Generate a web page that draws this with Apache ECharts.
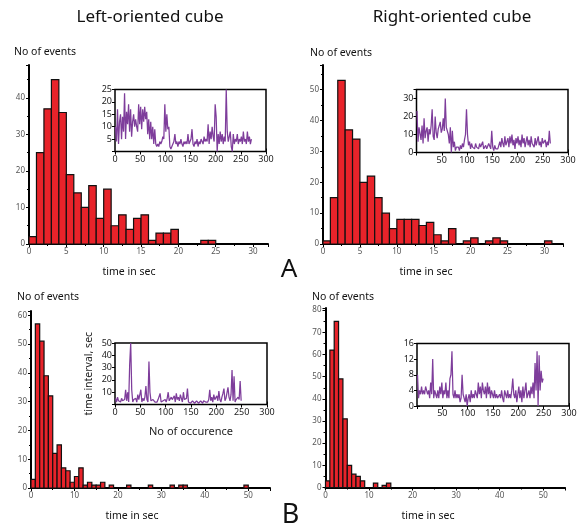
<!DOCTYPE html>
<html><head><meta charset="utf-8">
<script src="https://cdn.jsdelivr.net/npm/echarts@6/dist/echarts.min.js"></script>
<style>html,body{margin:0;padding:0;background:#fff}#c{width:580px;height:526px}</style>
</head><body><div id="c"></div>
<script>
// Histogram counts, bin i = [i, i+1) seconds
const countsLeftA  = [2,25,37,45,36,19,14,10,16,7,15,5,8,4,7,8,1,3,3,4,0,0,0,1,1];
const countsRightA = [1,15,53,37,34,20,22,15,10,5,8,8,8,6,7,3,1,5,0,1,2,0,1,2,1,0,0,0,0,0,1];
const countsLeftB  = [3,57,51,39,32,12,15,7,6,2,4,7,1,2,1,1,2,0,1,0,0,0,1,0,0,0,0,1,0,0,0,0,1,0,1,1,0,0,0,0,0,0,0,0,0,0,0,0,0,1];
const countsRightB = [3,62,75,49,31,10,6,5,3,0,0,2,0,1,2];

// Inset series: time interval (s) per occurrence, sampled every 2nd occurrence (1,3,5,...)
const seqLeftA = [10,4,17,3,12,15,5,14,8,23.5,
 5,16,11,19,8,17,6,12,15,10,
 13,10,8,19,11,18,9,17,12,18,
 13,16,7,13,5,12,5,10,3,9,
 3,2,3,2,4,3,4,6,5,19,
 8,15,9,10,2,1,2,3,4,7,
 3,4,2,4,3,5,3,2,4,3,
 4,3,7,3,4,5,9,3,2,4,
 3,5,2,4,3,5,4,3,6,4,
 5,4,11,3,8,5,10,6,4,19,
 14,0,7,3,8,4,7,3,6,4,
 25,8,4,6,8,2,0,7,3,5,
 4,7,3,5,4,6,3,8,4,5,
 3,8,4,6,3,5];
const seqRightA = [23,6,14,13,7,15,5,19,8,12,
 14,6,13,10,15,24,9,7,20,11,
 8,13,12,17,11,13,19,12,30,14,
 15,10,5,14,0,12,3,6,1,3,
 2,3,1,4,2,5,3,7,10,24,
 10,4,6,2,5,3,4,2,5,3,
 4,2,5,3,4,6,2,3,4,2,
 3,5,4,2,12,3,1,4,2,3,
 2,4,6,3,8,5,3,9,4,6,
 8,3,9,5,10,4,7,2,8,5,
 9,4,7,3,10,5,8,3,6,9,
 4,7,3,9,5,6,3,8,4,5,
 9,4,6,3,8,5,4,7,3,6,
 4,12,5];
const seqLeftB = [5,2,6,3,4,2,5,3,2,4,
 12,3,10,2,33,50,12,2,4,3,
 5,2,8,4,3,12,2,5,3,6,
 15,4,2,35,10,3,2,4,3,2,
 3,2,4,3,9,2,1,3,2,4,
 2,5,10,3,2,6,4,3,7,2,
 9,4,6,3,8,5,2,10,4,3,
 5,13,2,3,1,2,3,2,1,2,
 3,2,1,2,3,2,1,3,2,2,
 3,2,4,12,3,6,2,8,4,3,
 7,3,11,4,2,6,9,13,3,5,
 4,14,6,3,8,28,3,23,2,4,
 3,6,4,19,3];
const seqRightB = [8,2,4,3,5,3,4,3,5,4,
 3,4,2,6,3,12,2,4,3,2,
 4,2,5,3,6,2,4,3,6,2,
 4,2,7,8,14,3,2,4,2,3,
 2,3,1,2,8,3,2,1,3,0,
 2,3,1,4,2,3,2,4,3,2,
 6,3,5,2,6,4,3,5,2,6,
 3,5,2,4,3,2,4,2,3,2,
 2,3,2,4,2,1,4,3,2,4,
 2,3,2,4,7,3,2,4,1,3,
 5,2,4,1,5,2,4,6,2,3,
 4,2,5,3,6,2,11,4,14,0,
 13,4,9,6,7];

const titles = ['Left-oriented cube','Right-oriented cube'];
const yName = 'No of events';
const xName = 'time in sec';
const panelLetters = ['A','B'];
const insetYName = 'time interval, sec';
const insetXName = 'No of occurence';

const FONT = '"Noto Sans", "Open Sans", sans-serif';
const chart = echarts.init(document.getElementById('c'), null, {renderer:'canvas'});

function binItems(counts){ const out=[]; counts.forEach((c,i)=>{ if(c>0) out.push([i,i+1,c]); }); return out; }
function seqItems(vals){ return vals.map((v,i)=>[1+2*i, v]); }

function mainX(gi,max,interval){ return {type:'value',gridIndex:gi,min:0,max,interval,
  axisLine:{show:true,onZero:false,lineStyle:{color:'#000',width:2}},
  axisTick:{show:true,length:3,lineStyle:{color:'#000',width:1}},
  minorTick:{show:true,splitNumber:2,length:2,lineStyle:{color:'#000',width:1}},
  splitLine:{show:false},minorSplitLine:{show:false},
  axisLabel:{fontSize:8,color:'#555',margin:4,showMaxLabel:false,fontFamily:FONT}}; }
function mainY(gi,max){ return {type:'value',gridIndex:gi,min:0,max,interval:10,
  axisLine:{show:true,onZero:false,lineStyle:{color:'#000',width:2}},
  axisTick:{show:true,length:3,lineStyle:{color:'#000',width:1}},
  minorTick:{show:true,splitNumber:2,length:2,lineStyle:{color:'#000',width:1}},
  splitLine:{show:false},minorSplitLine:{show:false},
  axisLabel:{fontSize:8,color:'#555',margin:4,showMaxLabel:false,fontFamily:FONT}}; }
function insetX(gi,showMin,extra){ return Object.assign({type:'value',gridIndex:gi,min:0,max:300,interval:50,
  axisLine:{show:false},axisTick:{show:true,inside:true,length:3,lineStyle:{color:'#000'}},
  splitLine:{show:false},
  axisLabel:{fontSize:9,color:'#222',margin:3,showMinLabel:showMin,fontFamily:FONT}},extra||{}); }
function insetY(gi,max,interval,showMin,extra){ return Object.assign({type:'value',gridIndex:gi,min:0,max,interval,
  axisLine:{show:false},axisTick:{show:true,inside:true,length:3,lineStyle:{color:'#000'}},
  splitLine:{show:false},
  axisLabel:{fontSize:9,color:'#222',margin:3,showMinLabel:showMin,showMaxLabel:(max%interval===0),fontFamily:FONT}},extra||{}); }
// mirrored tick-only axes on top/right of the insets
function mirrorX(gi){ return {type:'value',gridIndex:gi,position:'top',min:0,max:300,interval:50,
  axisLine:{show:false},axisTick:{show:true,inside:true,length:3,lineStyle:{color:'#000'}},
  splitLine:{show:false},axisLabel:{show:false}}; }
function mirrorY(gi,max,interval){ return {type:'value',gridIndex:gi,position:'right',min:0,max,interval,
  axisLine:{show:false},axisTick:{show:true,inside:true,length:3,lineStyle:{color:'#000'}},
  splitLine:{show:false},axisLabel:{show:false}}; }

function barSeries(idx,counts){ return {type:'custom',xAxisIndex:idx,yAxisIndex:idx,data:binItems(counts),
  encode:{x:[0,1],y:2},
  renderItem:function(params,api){
    const p0=api.coord([api.value(0),api.value(2)]);
    const p1=api.coord([api.value(1),0]);
    return {type:'rect',shape:{x:p0[0],y:p0[1],width:p1[0]-p0[0],height:p1[1]-p0[1]},
      style:{fill:'#e8232a',stroke:'#111',lineWidth:1.2}};
  }}; }
function lineSeries(idx,vals){ return {type:'line',xAxisIndex:idx,yAxisIndex:idx,data:seqItems(vals),
  showSymbol:false,symbol:'none',lineStyle:{color:'#7e3d9b',width:1.25},z:5}; }

const insetGrid = {show:true,borderColor:'#000',borderWidth:1.5,backgroundColor:'#fff',z:3};

function txt(x,y,text,size,align){ return {type:'text',x,y,z:100,style:{text,font:size+'px '+FONT,fill:'#111',
  align:align||'left',verticalAlign:'middle',textAlign:align||'left',textVerticalAlign:'middle'}}; }

chart.setOption({
  animation:false,
  backgroundColor:'#fff',
  textStyle:{fontFamily:FONT},
  grid:[
    {left:29,top:65,width:239,height:179},
    {left:323,top:65,width:240,height:179},
    {left:31,top:311,width:239,height:177},
    {left:325.5,top:308,width:239.5,height:179.5},
    Object.assign({left:115,top:89.5,width:151,height:62},insetGrid),
    Object.assign({left:416.5,top:89.5,width:151.5,height:63},insetGrid),
    Object.assign({left:115,top:343,width:152,height:61.5},insetGrid),
    Object.assign({left:417,top:343.5,width:152,height:62.5},insetGrid)
  ],
  xAxis:[
    mainX(0,32,5), mainX(1,32.5,5), mainX(2,55,10), mainX(3,55,10),
    insetX(4,true), insetX(5,false), 
    insetX(6,true,{name:insetXName,nameLocation:'middle',nameGap:22,nameTextStyle:{fontSize:11,color:'#222',fontFamily:FONT}}),
    insetX(7,false),
    mirrorX(4), mirrorX(5), mirrorX(6), mirrorX(7)
  ],
  yAxis:[
    mainY(0,49), mainY(1,58), mainY(2,61.5), mainY(3,81),
    insetY(4,25,5,false), insetY(5,35,10,true),
    insetY(6,50,10,false,{name:insetYName,nameLocation:'middle',nameGap:20,nameRotate:90,nameTextStyle:{fontSize:10.5,color:'#222',fontFamily:FONT}}),
    insetY(7,16,4,true),
    mirrorY(4,25,5), mirrorY(5,35,10), mirrorY(6,50,10), mirrorY(7,16,4)
  ],
  series:[
    barSeries(0,countsLeftA), barSeries(1,countsRightA), barSeries(2,countsLeftB), barSeries(3,countsRightB),
    lineSeries(4,seqLeftA), lineSeries(5,seqRightA), lineSeries(6,seqLeftB), lineSeries(7,seqRightB)
  ],
  graphic:[
    txt(150,17,titles[0],17,'center'),
    txt(452,17,titles[1],17,'center'),
    txt(14,52,yName,10.5),
    txt(310,53,yName,10.5),
    txt(17,297,yName,10.5),
    txt(312,297,yName,10.5),
    txt(129,272,xName,10.5,'center'),
    txt(426,272,xName,10.5,'center'),
    txt(132,516,xName,10.5,'center'),
    txt(428,516,xName,10.5,'center'),
    txt(289,270,panelLetters[0],26,'center'),
    txt(290.5,515,panelLetters[1],27,'center')
  ]
});
</script></body></html>
